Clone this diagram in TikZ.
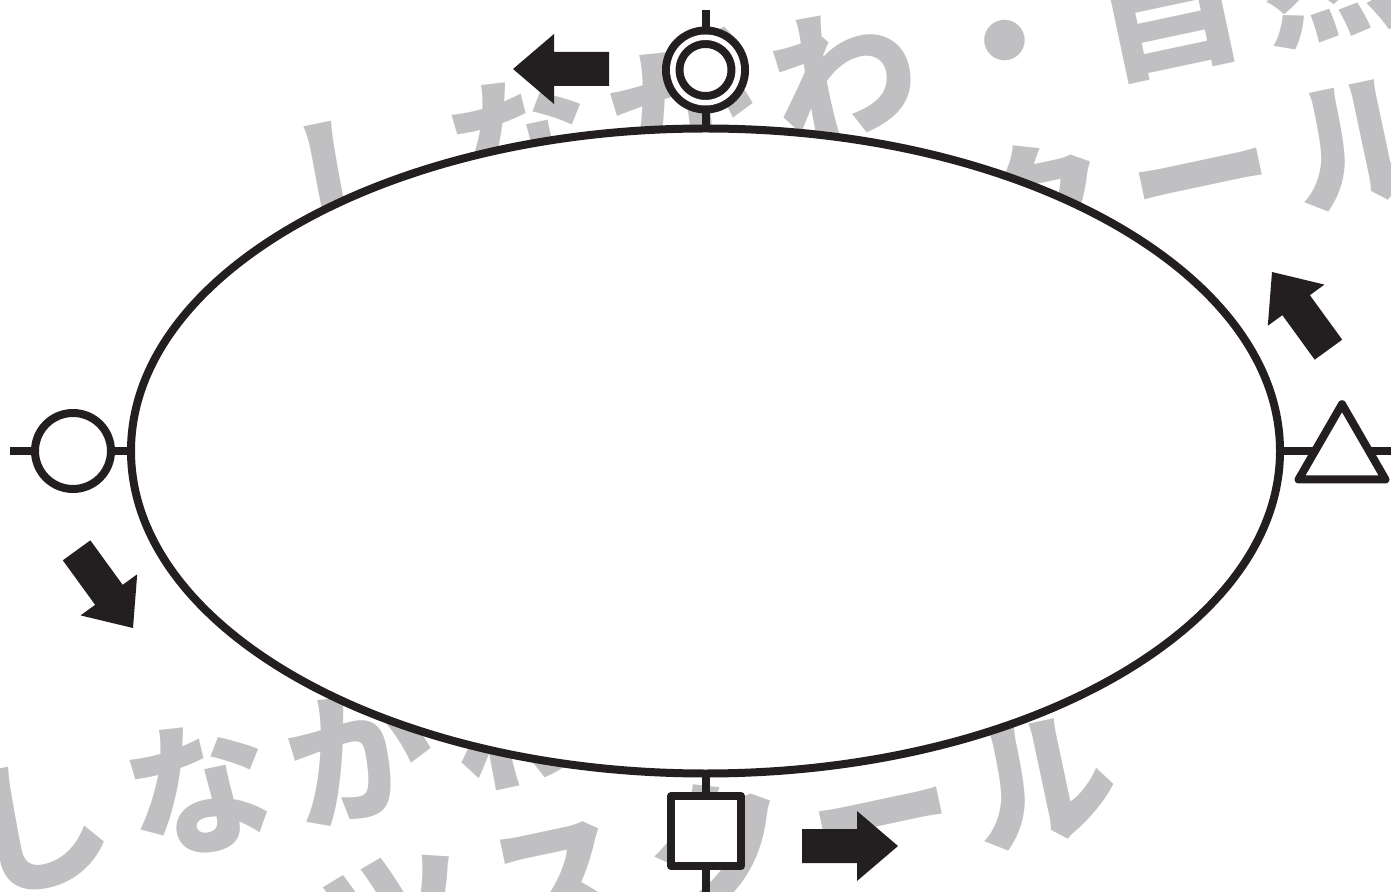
\documentclass[tikz,border=0pt]{standalone}
\usepackage{fontspec}
\newfontfamily\jpfont{Noto Sans CJK JP}
\usetikzlibrary{shapes.geometric}
\definecolor{ink}{HTML}{231F20}
\definecolor{wmgray}{HTML}{C0C0C2}
\pgfdeclarelayer{wm}
\pgfdeclarelayer{bg}
\pgfsetlayers{wm,bg,main}
\newcommand\wmline[5]{%
  \foreach \c [count=\i from #3] in {#4} {
    \node[wmchar] (#5-\i) at ({#1+\i*161.4},{#2-\i*34.3}) {\c};
  }}
\tikzset{
  wmchar/.style={anchor=base west, rotate=12, inner sep=0pt, outer sep=0pt,
    text=wmgray, font=\jpfont\bfseries\fontsize{72.5pt}{72.5pt}\selectfont},
  symb/.style={draw=ink, fill=white, line width=4pt, inner sep=0pt, outer sep=0pt},
  link/.style={draw=ink, line width=4pt},
  blockarrow/.pic={\fill[ink] (0,0) -- (-41,-35) -- (-41,-17) -- (-96,-17)
    -- (-96,17) -- (-41,17) -- (-41,35) -- cycle;}
}
\begin{document}
\begin{tikzpicture}[x=0.5pt, y=-0.5pt, line width=4pt]
\useasboundingbox (0,0) rectangle (1391,892);
% watermark text
\begin{pgfonlayer}{wm}
  \fill[white] (0,0) rectangle (1391,892);
  \wmline{300}{247}{0}{し,な,が,わ,・,自,然}{ta}
  \wmline{334}{415}{-1}{ス,ポ,ー,ツ,ス,ク,ー,ル}{tb}
  \wmline{-22}{892}{0}{し,な,が,わ,・,自,然}{ba}
  \wmline{14}{1054}{-1}{ス,ポ,ー,ツ,ス,ク,ー,ル}{bb}
\end{pgfonlayer}
% main loop and symbols
\node[symb, ellipse, minimum width=574.5pt, minimum height=322.5pt] (loop) at (705.5,451) {};
\node[symb, circle, minimum size=38pt] (lc) at (73,451) {};
\node[symb, circle, minimum size=32.75pt, double=white, double distance=2.75pt] (tc) at (705.5,70) {};
\node[symb, regular polygon, regular polygon sides=3, minimum size=50.2pt, line join=round] (tri) at (1342,454.4) {};
\node[symb, rectangle, minimum size=35pt, line join=round] (sq) at (706,831) {};
\coordinate (lend) at (10,451);
\coordinate (rend) at (1391,451);
\coordinate (ttop) at (705.5,10);
\coordinate (bbot) at (705.5,892);
\begin{pgfonlayer}{bg}
  \draw[link] (lend) -- (loop.west);
  \draw[link] (loop.east) -- (rend);
  \draw[link] (ttop) -- (loop.north);
  \draw[link] (loop.south) -- (bbot);
\end{pgfonlayer}
% direction arrows
\pic[rotate=180] at (513,69) {blockarrow};
\pic at (898,846) {blockarrow};
\pic[rotate=-54] at (133,628) {blockarrow};
\pic[rotate=126] at (1272,272) {blockarrow};
\end{tikzpicture}
\end{document}
